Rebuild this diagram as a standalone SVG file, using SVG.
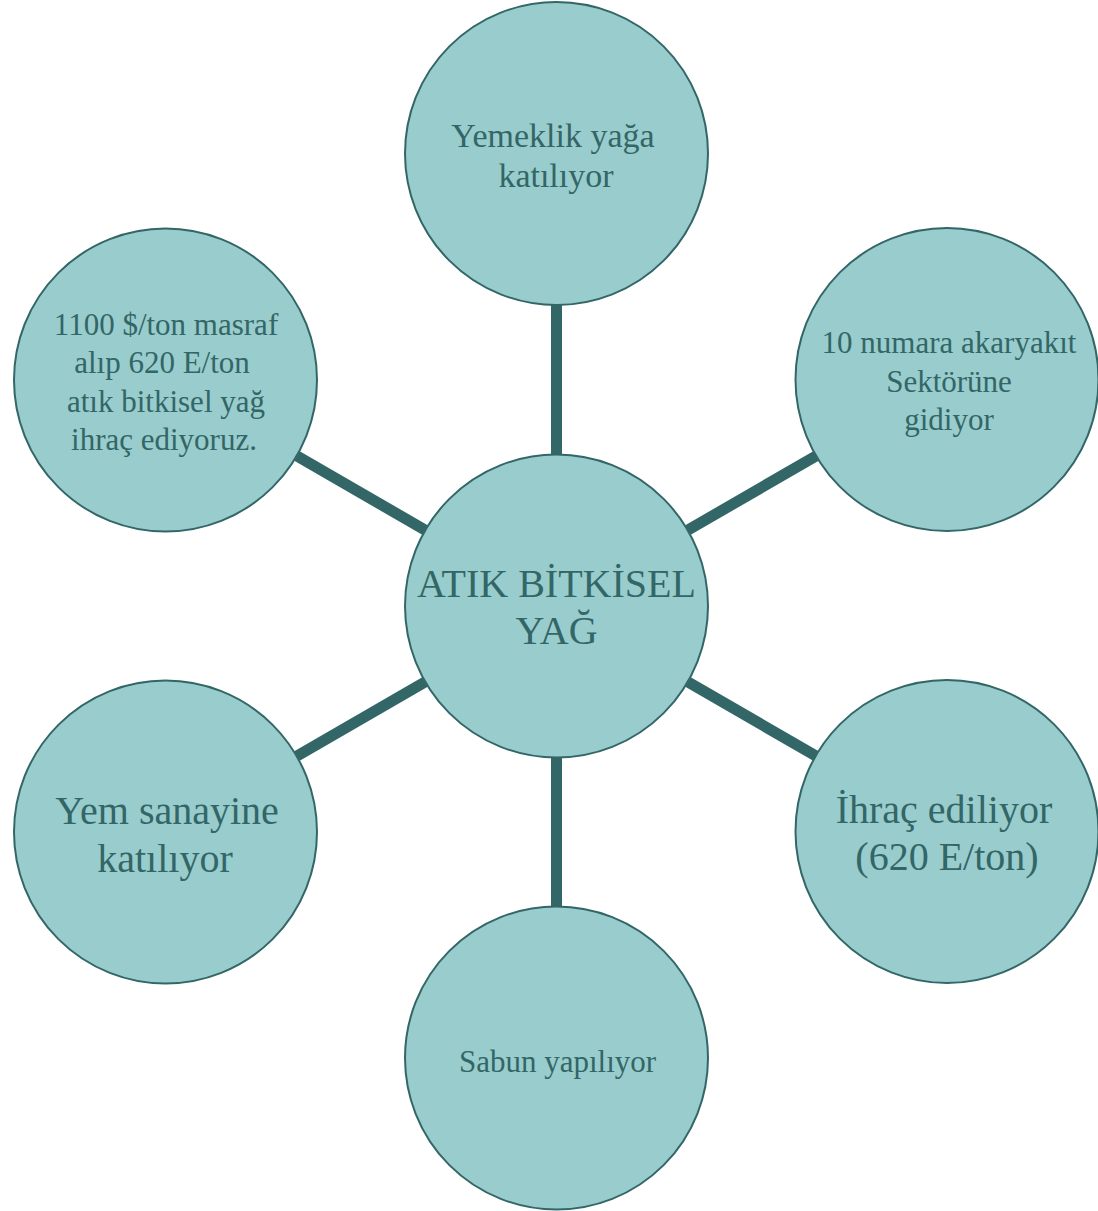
<svg xmlns="http://www.w3.org/2000/svg" width="1098" height="1211" viewBox="0 0 1098 1211">
<style>
.node circle{fill:#99CCCC;stroke:#336666;stroke-width:2}
.node text{fill:#336666;font-family:"Liberation Serif","Times New Roman",serif;text-anchor:middle}
.s{font-size:31px}
.m{font-size:34px}
.l{font-size:40px}
.conn line{stroke:#336666;stroke-width:11}
</style>
<rect width="1098" height="1211" fill="#ffffff"/>
<g id="connectors" class="conn">
<line x1="556.5" y1="305" x2="556.5" y2="455"/>
<line x1="556.5" y1="757" x2="556.5" y2="907"/>
<line x1="688" y1="530" x2="816" y2="456"/>
<line x1="688" y1="682" x2="816" y2="756"/>
<line x1="425" y1="530" x2="297" y2="456"/>
<line x1="425" y1="682" x2="297" y2="756"/>
</g>
<g id="center" class="node">
<circle cx="556.5" cy="606" r="151.5"/>
<text class="l" x="556.5" y="597">ATIK BİTKİSEL</text>
<text class="l" x="556.5" y="644">YAĞ</text>
</g>
<g id="top" class="node">
<circle cx="556.5" cy="153.5" r="151.5"/>
<text class="m" x="553" y="147">Yemeklik yağa</text>
<text class="m" x="556" y="187">katılıyor</text>
</g>
<g id="top-right" class="node">
<circle cx="947" cy="379.5" r="151.5"/>
<text class="s" x="949" y="353">10 numara akaryakıt</text>
<text class="s" x="949" y="392">Sektörüne</text>
<text class="s" x="949" y="430">gidiyor</text>
</g>
<g id="bottom-right" class="node">
<circle cx="947" cy="831.5" r="151.5"/>
<text class="l" x="944" y="823">İhraç ediliyor</text>
<text class="l" x="947" y="870">(620 E/ton)</text>
</g>
<g id="bottom" class="node">
<circle cx="556.5" cy="1058" r="151.5"/>
<text class="s" x="557.5" y="1072">Sabun yapılıyor</text>
</g>
<g id="bottom-left" class="node">
<circle cx="165.5" cy="832" r="151.5"/>
<text class="l" x="167" y="824">Yem sanayine</text>
<text class="l" x="165" y="872">katılıyor</text>
</g>
<g id="top-left" class="node">
<circle cx="165.5" cy="380" r="151.5"/>
<text class="s" x="166" y="335">1100 $/ton masraf</text>
<text class="s" x="162" y="373">alıp 620 E/ton</text>
<text class="s" x="166" y="412">atık bitkisel yağ</text>
<text class="s" x="164" y="450">ihraç ediyoruz.</text>
</g>
</svg>
